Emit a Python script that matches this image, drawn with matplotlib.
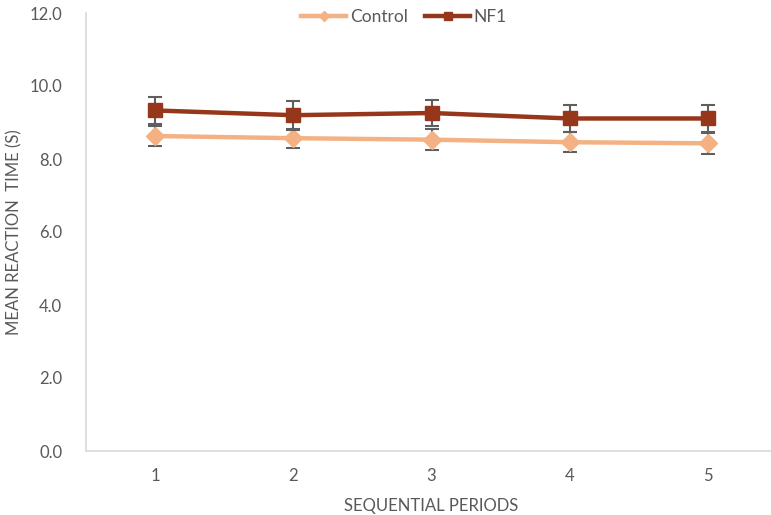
import matplotlib

matplotlib.use("Agg")
import matplotlib.pyplot as plt

periods = [1, 2, 3, 4, 5]
control_mean = [8.63, 8.57, 8.53, 8.46, 8.43]
control_err = [0.27, 0.26, 0.28, 0.28, 0.28]
nf1_mean = [9.33, 9.20, 9.26, 9.11, 9.11]
nf1_err = [0.36, 0.40, 0.36, 0.37, 0.37]

_CONTROL = "#F4B183"
_NF1 = "#96361A"
_ERR = "#5F5F5F"
_TEXT = "#595959"
_AXIS = "#D9D9D9"

plt.rcParams["font.family"] = ["Lato", "DejaVu Sans"]

fig = plt.figure(figsize=(7.71, 5.15), dpi=100)
ax = fig.add_axes([86 / 771, 64 / 515, 691 / 771, 438 / 515])

ax.errorbar(periods, control_mean, yerr=control_err, color=_CONTROL, linewidth=3.2,
            marker="D", markersize=9, ecolor=_ERR, elinewidth=1.5, capsize=5, capthick=1.5,
            label="Control", zorder=3)
ax.errorbar(periods, nf1_mean, yerr=nf1_err, color=_NF1, linewidth=3.2,
            marker="s", markersize=10, ecolor=_ERR, elinewidth=1.5, capsize=5, capthick=1.5,
            label="NF1", zorder=4)

ax.set_xlim(0.5, 5.5)
ax.set_ylim(0, 12)
ax.set_xticks(periods)
ax.set_yticks([0, 2, 4, 6, 8, 10, 12])
ax.set_yticklabels([f"{v:.1f}" for v in [0, 2, 4, 6, 8, 10, 12]])
ax.tick_params(axis="both", length=0, labelsize=12, colors=_TEXT)
ax.tick_params(axis="x", pad=12)
ax.tick_params(axis="y", pad=17)

for side in ["top", "right"]:
    ax.spines[side].set_visible(False)
for side in ["left", "bottom"]:
    ax.spines[side].set_color(_AXIS)
    ax.spines[side].set_linewidth(1.2)

ax.set_xlabel("SEQUENTIAL PERIODS", fontsize=12, color=_TEXT, labelpad=10)
ax.set_ylabel("MEAN REACTION  TIME (S)", fontsize=12, color=_TEXT, labelpad=5)

handles, labels = ax.get_legend_handles_labels()
handles = [h[0] for h in handles]
leg = ax.legend(handles, labels, loc="center", bbox_to_anchor=(318 / 691, 0.991), ncol=2,
                frameon=False, fontsize=12.5, handlelength=2.6, handletextpad=0.2,
                columnspacing=1.0, markerscale=0.55)
for t in leg.get_texts():
    t.set_color(_TEXT)

fig.savefig("out.png", dpi=100, facecolor="white")
